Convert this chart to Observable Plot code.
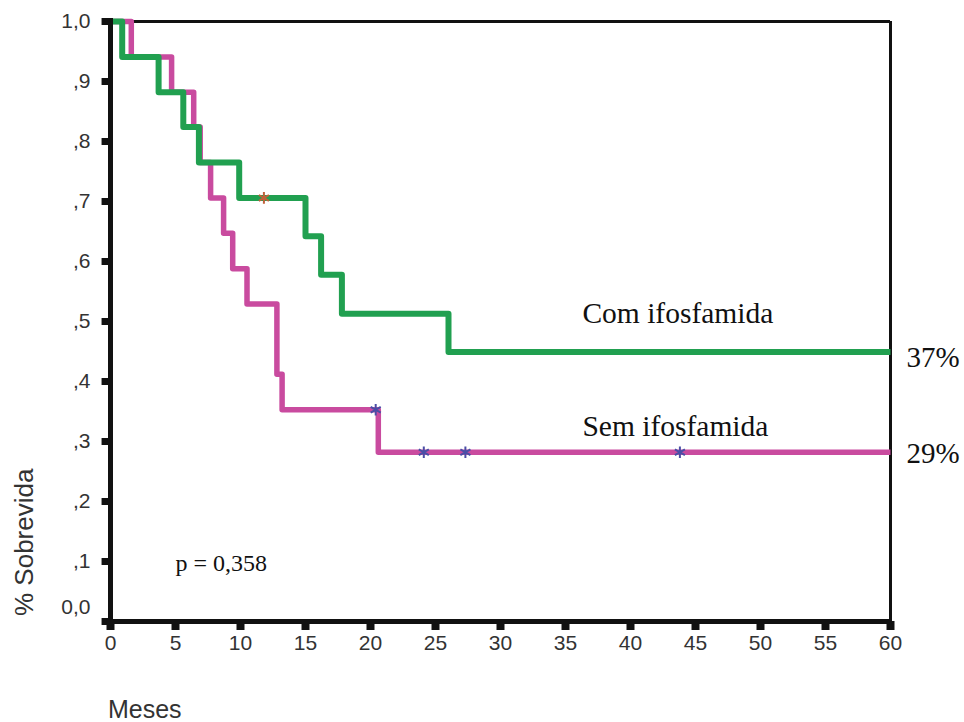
<!DOCTYPE html>
<html><head><meta charset="utf-8">
<script src="https://cdn.jsdelivr.net/npm/d3@7"></script>
<script src="https://cdn.jsdelivr.net/npm/@observablehq/plot@0.6"></script>
<style>html,body{margin:0;padding:0;background:#fff}</style>
</head><body><div id="chart"></div>
<script>
// Kaplan-Meier: Com ifosfamida
const comMonths   = [0, 0.9, 3.7, 5.6, 6.8, 9.9, 15.0, 16.2, 17.8, 26.0, 60];
const comSurvival = [1, 0.941, 0.882, 0.824, 0.765, 0.706, 0.642, 0.578, 0.513, 0.449, 0.449];
const comCensorMonths   = [11.8];
const comCensorSurvival = [0.706];
// Kaplan-Meier: Sem ifosfamida
const semMonths   = [0, 1.6, 4.7, 6.4, 6.9, 7.7, 8.7, 9.4, 10.5, 12.8, 13.2, 20.6, 60];
const semSurvival = [1, 0.941, 0.882, 0.824, 0.765, 0.706, 0.647, 0.588, 0.529, 0.412, 0.353, 0.282, 0.282];
const semCensorMonths   = [20.4, 24.1, 27.3, 43.8];
const semCensorSurvival = [0.353, 0.282, 0.282, 0.282];
// Axes
const xTicks = [0, 5, 10, 15, 20, 25, 30, 35, 40, 45, 50, 55, 60];
const yTicks = [0, 0.1, 0.2, 0.3, 0.4, 0.5, 0.6, 0.7, 0.8, 0.9, 1.0];
const yTickLabels = ["0,0", ",1", ",2", ",3", ",4", ",5", ",6", ",7", ",8", ",9", "1,0"];
const groupNames = ["Com ifosfamida", "Sem ifosfamida"];
const endLabels = ["37%", "29%"];
const pText = "p = 0,358";
const xLabel = "Meses";
const yLabel = "% Sobrevida";

const com = comMonths.map((t, i) => ({t, s: comSurvival[i]}));
const sem = semMonths.map((t, i) => ({t, s: semSurvival[i]}));
const comC = comCensorMonths.map((t, i) => ({t, s: comCensorSurvival[i]}));
const semC = semCensorMonths.map((t, i) => ({t, s: semCensorSurvival[i]}));
const yLab = (d) => {
  const i = yTicks.findIndex(v => Math.abs(v - d) < 1e-9);
  return i < 0 ? "" : yTickLabels[i];
};

const GREEN = "#21a050", PINK = "#c94b9f";
const serif = "Liberation Serif, Times New Roman, serif";

const chart = Plot.plot({
  width: 964, height: 722,
  marginLeft: 110, marginRight: 74, marginTop: 21, marginBottom: 101,
  style: {fontFamily: "Liberation Sans, Arial, sans-serif", fontSize: "21px", color: "#111", background: "#fff"},
  x: {domain: [0, 60]},
  y: {domain: [0, 1]},
  marks: [
    Plot.ruleY([1], {stroke: "#111", strokeWidth: 3}),
    Plot.ruleX([60], {stroke: "#111", strokeWidth: 3}),
    Plot.line(sem, {x: "t", y: "s", curve: "step-after", stroke: PINK, strokeWidth: 5.5, strokeLinecap: "butt"}),
    Plot.line(com, {x: "t", y: "s", curve: "step-after", stroke: GREEN, strokeWidth: 6, strokeLinecap: "butt"}),
    Plot.dot(semC, {x: "t", y: "s", symbol: "asterisk", r: 5.5, stroke: "#4a4ea6", strokeWidth: 2}),
    Plot.dot(comC, {x: "t", y: "s", symbol: "asterisk", r: 5.5, stroke: "#c0603a", strokeWidth: 2}),
    // tick marks (thick squares)
    Plot.ruleX(xTicks, {y1: 0, y2: -0.015, stroke: "#111", strokeWidth: 8}),
    Plot.ruleY(yTicks, {x1: -0.65, x2: 0, stroke: "#111", strokeWidth: 7}),
    Plot.ruleX([0], {stroke: "#111", strokeWidth: 5, y1: -0.007, y2: 1.005}),
    Plot.ruleY([0], {stroke: "#111", strokeWidth: 5, x1: -0.3, x2: 60.1}),
    Plot.axisX({ticks: xTicks, tickSize: 0, tickPadding: 14, fill: "#333", fontSize: 21, label: null}),
    Plot.axisY({ticks: yTicks, tickSize: 0, tickPadding: 20, fill: "#333", fontSize: 21, label: null,
      tickFormat: d => (d === 0 ? "" : yLab(d))}),
    Plot.axisY({ticks: [0], tickSize: 0, tickPadding: 20, dy: -14, fill: "#333", fontSize: 21, label: null, tickFormat: yLab}),
    Plot.text([groupNames[0]], {x: 36.3, y: 0.513, textAnchor: "start", fontFamily: serif, fontSize: 29.5, fill: "#111"}),
    Plot.text([groupNames[1]], {x: 36.3, y: 0.325, textAnchor: "start", fontFamily: serif, fontSize: 29.5, fill: "#111"}),
    Plot.text([endLabels[0]], {x: 60, y: 0.44, dx: 16, textAnchor: "start", fontFamily: serif, fontSize: 29, fill: "#111"}),
    Plot.text([endLabels[1]], {x: 60, y: 0.28, dx: 16, textAnchor: "start", fontFamily: serif, fontSize: 29, fill: "#111"}),
    Plot.text([pText], {x: 5, y: 0.097, textAnchor: "start", fontFamily: serif, fontSize: 24, fill: "#111"}),
    Plot.text([yLabel], {x: -6.6, y: 0.132, rotate: -90, fontSize: 26, fill: "#333"}),
    Plot.text([xLabel], {x: -0.2, y: -0.16, textAnchor: "start", lineAnchor: "bottom", fontSize: 25, fill: "#333"})
  ]
});
document.getElementById("chart").appendChild(chart);
</script></body></html>
